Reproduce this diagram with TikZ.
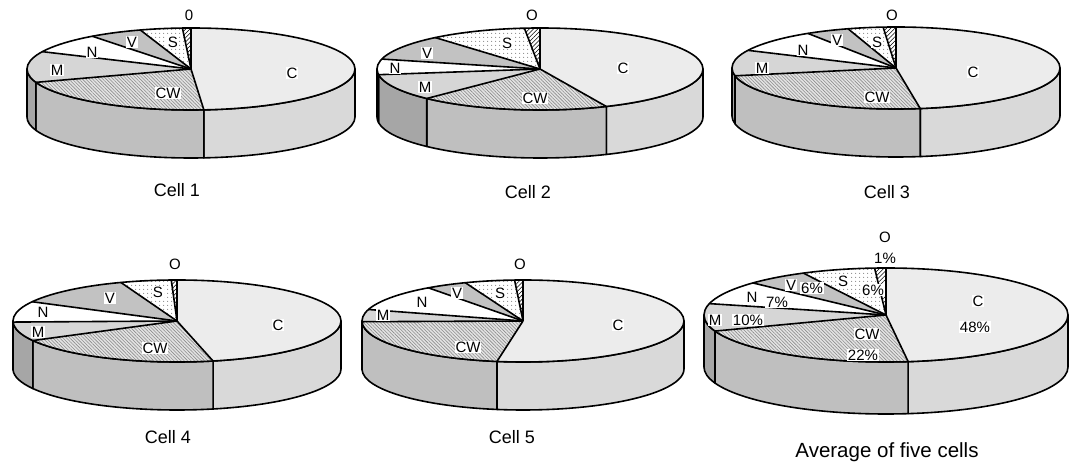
\documentclass[tikz,border=0pt]{standalone}
\usepackage{fontspec}
\setmainfont{Liberation Sans}
\usetikzlibrary{patterns.meta}

\tikzset{
  rim/.style={draw=black, line width=1.6pt, line join=round},
  topC/.style={fill=gray!15},
  sideC/.style={rim, fill=gray!30},
  topCW/.style={preaction={fill=gray!22}, pattern={Lines[angle=-45,distance=2.4pt,line width=0.6pt]}, pattern color=gray!90},
  sideCW/.style={rim, fill=gray!50},
  topM/.style={fill=gray!32},
  sideM/.style={rim, fill=gray!70},
  topN/.style={fill=white},
  sideN/.style={rim, fill=gray!25},
  topV/.style={fill=gray!48},
  topS/.style={preaction={fill=white}, pattern={Dots[distance=4pt,radius=0.65pt]}, pattern color=gray!90},
  topO/.style={preaction={fill=white}, pattern={Lines[angle=45,distance=3pt,line width=0.55pt]}, pattern color=black},
  lab/.style={fill=white, inner sep=0.8pt, font=\fontsize{15}{16}\selectfont},
  ttl/.style={font=\fontsize{18}{20}\selectfont},
  bigttl/.style={font=\fontsize{20.5}{22}\selectfont},
}

\def\setangles#1,#2,#3,#4,#5,#6\relax{\def\aO{#1}\def\aS{#2}\def\aV{#3}\def\aN{#4}\def\aM{#5}\def\aCW{#6}}

% front wall piece of one slice
\newcommand{\sidepart}[3]{%
  \pgfmathsetmacro\sa{max(#1,180)}\pgfmathsetmacro\sb{min(#2,360)}%
  \ifdim\sb pt>\sa pt
    \draw[#3] ({\rx*cos(\sa)},{\ry*sin(\sa)}) arc[start angle=\sa, end angle=\sb, x radius=\rx, y radius=\ry]
      -- ++(0,-\dep) arc[start angle=\sb, end angle=\sa, x radius=\rx, y radius=\ry] -- cycle;
  \fi}

% top face of one slice
\newcommand{\toppart}[3]{%
  \path[#3] (0,0) -- ({\rx*cos(#1)},{\ry*sin(#1)}) arc[start angle=#1, end angle=#2, x radius=\rx, y radius=\ry] -- cycle;}

\newcommand{\threedpie}[6]{%
  \begin{scope}[shift={(#1,#2)}]
    \def\rx{#3}\def\ry{#4}\def\dep{#5}
    \setangles#6\relax
    \sidepart{\aCW}{450}{sideC}
    \sidepart{\aM}{\aCW}{sideCW}
    \sidepart{\aN}{\aM}{sideM}
    \sidepart{\aV}{\aN}{sideN}
    \toppart{\aCW}{450}{topC}
    \toppart{\aM}{\aCW}{topCW}
    \toppart{\aN}{\aM}{topM}
    \toppart{\aV}{\aN}{topN}
    \toppart{\aS}{\aV}{topV}
    \toppart{\aO}{\aS}{topS}
    \toppart{90}{\aO}{topO}
    \foreach \a in {90,\aO,\aS,\aV,\aN,\aM,\aCW}
      \draw[rim] (0,0) -- ({\rx*cos(\a)},{\ry*sin(\a)});
    \draw[rim] (0,0) ellipse[x radius=\rx, y radius=\ry];
  \end{scope}}

\begin{document}
\begin{tikzpicture}[x=1pt, y=1pt]
\useasboundingbox (0,0) rectangle (1069,465);
%
\threedpie{191}{396}{164}{41}{48}{93,108,127,155,199,274.5}
\threedpie{540}{396}{163}{41}{48}{95.5,130,166,188,226,294}
\threedpie{896}{397}{164}{41}{48}{94.5,107,122.5,154.5,191,278.5}
%
\threedpie{177}{144}{164}{41}{48}{92,110,152,181.5,208.5,282.7}
\threedpie{523}{144}{161}{41}{48}{93,111,126,163.7,181,260.7}
\threedpie{886}{150}{182}{47}{52}{93.6,117,137,166,200,277}
%
% cell 1
\node[lab] (c1O) at (189,450) {0};
\node[lab] (c1S) at (173,423) {S};
\node[lab] (c1V) at (132,423) {V};
\node[lab] (c1N) at (92,413) {N};
\node[lab] (c1M) at (57,395) {M};
\node[lab] (c1CW) at (168,372) {CW};
\node[lab] (c1C) at (292,392) {C};
\node[ttl] (c1t) at (177,275) {Cell 1};
% cell 2
\node[lab] (c2O) at (532,450) {O};
\node[lab] (c2S) at (507,422) {S};
\node[lab] (c2V) at (427,412) {V};
\node[lab] (c2N) at (395,397) {N};
\node[lab] (c2M) at (425,378) {M};
\node[lab] (c2CW) at (535,367) {CW};
\node[lab] (c2C) at (623,397) {C};
\node[ttl] (c2t) at (528,273) {Cell 2};
% cell 3
\node[lab] (c3O) at (892,450) {O};
\node[lab] (c3S) at (877,423) {S};
\node[lab] (c3V) at (837,425) {V};
\node[lab] (c3N) at (803,415) {N};
\node[lab] (c3M) at (762,397) {M};
\node[lab] (c3CW) at (877,368) {CW};
\node[lab] (c3C) at (973,393) {C};
\node[ttl] (c3t) at (887,273) {Cell 3};
% cell 4
\node[lab] (c4O) at (175,201) {O};
\node[lab] (c4S) at (158,173) {S};
\node[lab] (c4V) at (110,167) {V};
\node[lab] (c4N) at (43,153) {N};
\node[lab] (c4M) at (38,133) {M};
\node[lab] (c4CW) at (155,117) {CW};
\node[lab] (c4C) at (278,140) {C};
\node[ttl] (c4t) at (168,28) {Cell 4};
% cell 5
\node[lab] (c5O) at (520,201) {O};
\node[lab] (c5S) at (500,172) {S};
\node[lab] (c5V) at (457,172) {V};
\node[lab] (c5N) at (422,163) {N};
\node[lab] (c5M) at (383,150) {M};
\node[lab] (c5CW) at (468,118) {CW};
\node[lab] (c5C) at (618,140) {C};
\node[ttl] (c5t) at (512,28) {Cell 5};
% average
\node[lab] (avO) at (885,228) {O};
\node[lab] (avOp) at (885,207) {1\%};
\node[lab] (avS) at (843,184) {S};
\node[lab] (avSp) at (873,175) {6\%};
\node[lab] (avV) at (791,180) {V};
\node[lab] (avVp) at (812,177) {6\%};
\node[lab] (avN) at (752,168) {N};
\node[lab] (avNp) at (777,163) {7\%};
\node[lab] (avM) at (715,145) {M};
\node[lab] (avMp) at (748,145) {10\%};
\node[lab] (avCW) at (867,131) {CW};
\node[lab] (avCWp) at (863,110) {22\%};
\node[lab] (avC) at (978,164) {C};
\node[lab] (avCp) at (975,138) {48\%};
\node[bigttl] (avt) at (887,13) {Average of five cells};
\end{tikzpicture}
\end{document}
